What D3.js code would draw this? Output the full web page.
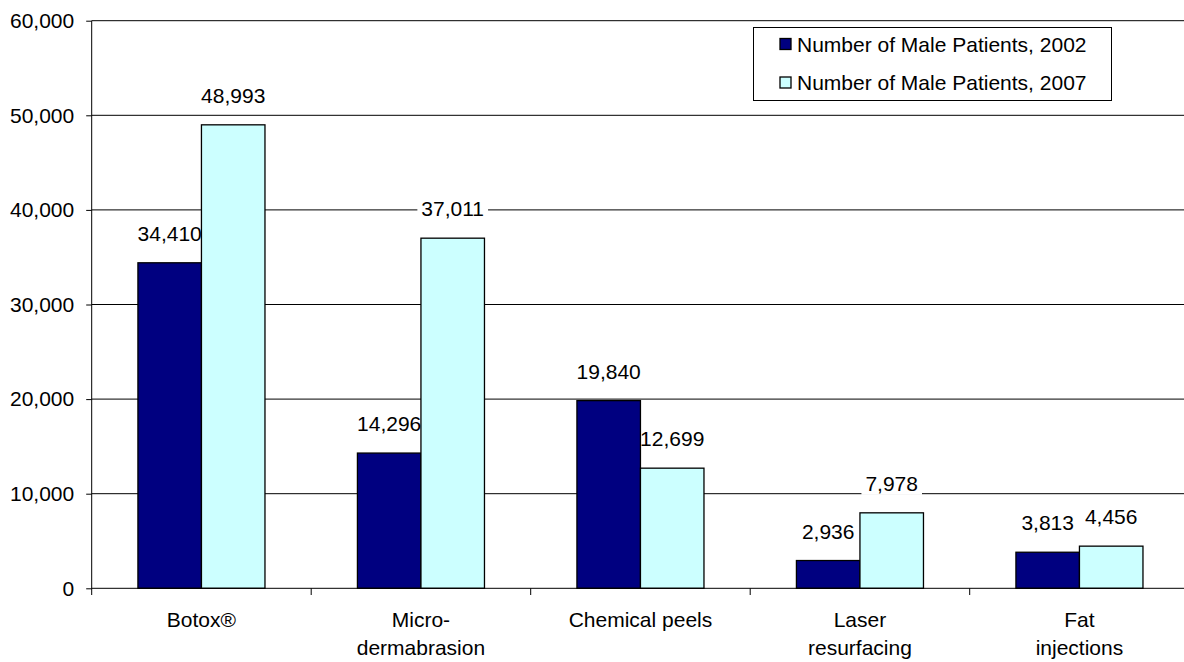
<!DOCTYPE html>
<html>
<head>
<meta charset="utf-8">
<script src="https://cdn.jsdelivr.net/npm/d3@7"></script>
<style>
  body { margin: 0; background: #fff; }
  svg { display: block; font-family: "Liberation Sans", Arial, sans-serif; }
</style>
</head>
<body>
<script>
// categories, each label split in lines
var categories = ["Botox®", "Micro-dermabrasion", "Chemical peels", "Laser resurfacing", "Fat injections"];
var catLines = [["Botox®"], ["Micro-", "dermabrasion"], ["Chemical peels"], ["Laser", "resurfacing"], ["Fat", "injections"]];
var seriesNames = ["Number of Male Patients, 2002", "Number of Male Patients, 2007"];
var males2002 = [34410, 14296, 19840, 2936, 3813];
var males2007 = [48993, 37011, 12699, 7978, 4456];
var yTicks = [0, 10000, 20000, 30000, 40000, 50000, 60000];
var colors = ["#000080", "#ccffff"];

var W = 1184, H = 662;
var plotL = 91.7, plotR = 1189.2, plotT = 20.7, plotB = 588.3;

var svg = d3.select("body").append("svg")
    .attr("width", W).attr("height", H);

var y = d3.scaleLinear().domain([0, 60000]).range([plotB, plotT]);
var x = d3.scaleBand().domain(categories).range([plotL, plotR]);
var bw = x.bandwidth();
var x1 = d3.scaleBand().domain([0, 1]).range([bw * 0.2106, bw * 0.7894]);

// gridlines
svg.append("g").selectAll("line")
    .data(yTicks.filter(function(d) { return d > 0; }))
    .enter().append("line")
    .attr("x1", plotL).attr("x2", plotR)
    .attr("y1", function(d) { return y(d); })
    .attr("y2", function(d) { return y(d); })
    .attr("stroke", "#000").attr("stroke-width", 1);

// y axis
var yAxis = d3.axisLeft(y).tickValues(yTicks).tickSize(5.5).tickPadding(12)
    .tickFormat(d3.format(","));
var gy = svg.append("g").attr("transform", "translate(" + plotL + ",0)").call(yAxis);
gy.select(".domain").remove();
gy.selectAll("line").attr("stroke", "#000");
gy.selectAll("text").attr("font-size", 21).attr("fill", "#000")
    .attr("font-family", "Liberation Sans, Arial, sans-serif");

svg.append("line")
    .attr("x1", plotL).attr("x2", plotL)
    .attr("y1", plotT).attr("y2", plotB + 6.7)
    .attr("stroke", "#000");

var rows = categories.map(function(c, i) {
  return { cat: c, vals: [males2002[i], males2007[i]] };
});
function pairs(d) { return d.vals.map(function(v, k) { return { v: v, k: k }; }); }

// value labels with white background (below the bars)
var fmt = d3.format(",");
var labGroups = svg.append("g").selectAll("g")
    .data(rows).enter().append("g")
    .attr("transform", function(d) { return "translate(" + x(d.cat) + ",0)"; });
var labels = labGroups.selectAll("g.lab")
    .data(pairs)
    .enter().append("g").attr("class", "lab");
labels.append("rect").attr("fill", "#fff");
labels.append("text")
    .attr("x", function(d) { return x1(d.k) + x1.bandwidth() / 2; })
    .attr("y", function(d) { return y(d.v) - 22; })
    .attr("text-anchor", "middle")
    .attr("font-size", 21).attr("fill", "#000")
    .text(function(d) { return fmt(d.v); });
labels.each(function() {
  var g = d3.select(this);
  var b = g.select("text").node().getBBox();
  g.select("rect").attr("x", b.x - 4).attr("y", b.y)
    .attr("width", b.width + 8).attr("height", b.height);
});

// bars
var groups = svg.append("g").selectAll("g")
    .data(rows).enter().append("g")
    .attr("transform", function(d) { return "translate(" + x(d.cat) + ",0)"; });

groups.selectAll("rect")
    .data(pairs)
    .enter().append("rect")
    .attr("x", function(d) { return x1(d.k); })
    .attr("width", x1.bandwidth())
    .attr("y", function(d) { return y(d.v); })
    .attr("height", function(d) { return plotB - y(d.v); })
    .attr("fill", function(d) { return colors[d.k]; })
    .attr("stroke", "#000").attr("stroke-width", 1.3);

// x axis baseline and category ticks
svg.append("line")
    .attr("x1", plotL).attr("x2", plotR)
    .attr("y1", plotB).attr("y2", plotB)
    .attr("stroke", "#000");
svg.append("g").selectAll("line")
    .data(categories.slice(1).concat(["__end"]))
    .enter().append("line")
    .attr("x1", function(d) { return d === "__end" ? plotR : x(d); })
    .attr("x2", function(d) { return d === "__end" ? plotR : x(d); })
    .attr("y1", plotB).attr("y2", plotB + 6.7)
    .attr("stroke", "#000");

// category labels
var cl = svg.append("g").selectAll("text")
    .data(categories).enter().append("text")
    .attr("x", function(d) { return x(d) + bw / 2; })
    .attr("y", 626.5)
    .attr("text-anchor", "middle")
    .attr("font-size", 21).attr("fill", "#000");
cl.selectAll("tspan")
    .data(function(d, i) { return catLines[i]; })
    .enter().append("tspan")
    .attr("x", function() { return x(this.parentNode.__data__) + bw / 2; })
    .attr("dy", function(d, i) { return i === 0 ? 0 : 28.5; })
    .text(function(d) { return d; });

// legend
var lg = svg.append("g");
lg.append("rect")
    .attr("x", 753.5).attr("y", 27.5).attr("width", 358).attr("height", 73)
    .attr("fill", "#fff").attr("stroke", "#000");
var li = lg.selectAll("g.item").data(seriesNames).enter().append("g")
    .attr("transform", function(d, i) { return "translate(0," + (44 + i * 38.5) + ")"; });
li.append("rect")
    .attr("x", 780).attr("y", -5.5).attr("width", 11).attr("height", 11)
    .attr("fill", function(d, i) { return colors[i]; })
    .attr("stroke", "#000").attr("stroke-width", 1.3);
li.append("text")
    .attr("x", 797).attr("y", 7.5)
    .attr("font-size", 21).attr("fill", "#000")
    .text(function(d) { return d; });
</script>
</body>
</html>
